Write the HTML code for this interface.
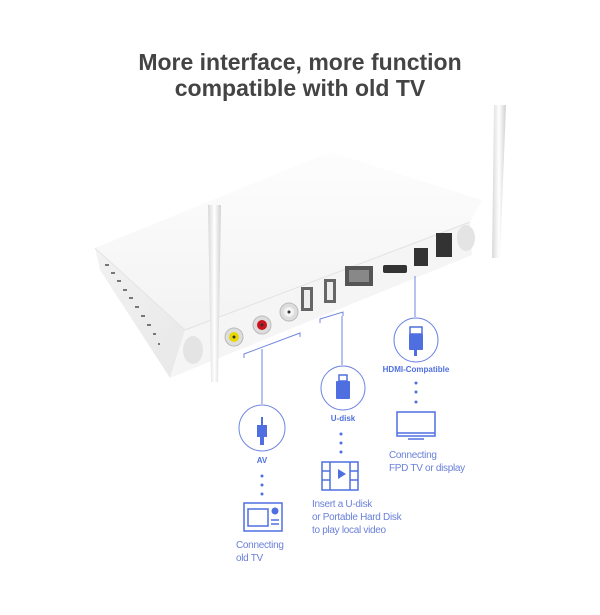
<!DOCTYPE html>
<html><head><meta charset="utf-8"><style>
html,body{margin:0;padding:0;background:#fff;width:600px;height:615px;overflow:hidden}
svg{display:block}
</style></head><body>
<svg width="600" height="615" viewBox="0 0 600 615" xmlns="http://www.w3.org/2000/svg" font-family="Liberation Sans, sans-serif">
<defs>
<linearGradient id="top" x1="0" y1="0" x2="0" y2="1"><stop offset="0" stop-color="#fdfdfd"/><stop offset="1" stop-color="#f3f3f3"/></linearGradient>
<linearGradient id="side" x1="0" y1="0" x2="1" y2="1"><stop offset="0" stop-color="#f2f2f2"/><stop offset="1" stop-color="#e8e8e8"/></linearGradient>
<linearGradient id="ant" x1="0" y1="0" x2="1" y2="0"><stop offset="0" stop-color="#d8d8d8"/><stop offset="0.5" stop-color="#fff"/><stop offset="1" stop-color="#d0d0d0"/></linearGradient>
</defs>
<text x="300" y="70" text-anchor="middle" font-size="23" font-weight="bold" fill="#444">More interface, more function</text>
<text x="300" y="96" text-anchor="middle" font-size="23" font-weight="bold" fill="#444">compatible with old TV</text>

<polygon points="95,248 330,152 482,200 470,222 185,330" fill="url(#top)"/>
<polygon points="95,248 185,330 170,378 100,270" fill="url(#side)"/>
<polygon points="185,330 470,222 472,255 170,378" fill="#f5f5f5"/>
<polyline points="185,330 470,222" stroke="#e2e2e2" fill="none"/>
<polyline points="95,248 185,330" stroke="#e4e4e4" fill="none"/>
<g fill="#777">
<rect x="105" y="264" width="4" height="2"/><rect x="111" y="272" width="4" height="2"/><rect x="117" y="280" width="4" height="2"/>
<rect x="123" y="289" width="4" height="2"/><rect x="129" y="297" width="4" height="2"/><rect x="135" y="306" width="4" height="2"/>
<rect x="141" y="315" width="4" height="2"/><rect x="147" y="324" width="4" height="2"/><rect x="153" y="333" width="3" height="2"/><rect x="158" y="343" width="2" height="2"/>
</g>
<circle cx="234" cy="337" r="9" fill="#ddd" stroke="#bbb"/><circle cx="234" cy="337" r="5" fill="#e8d800"/><circle cx="234" cy="337" r="1.5" fill="#333"/>
<circle cx="262" cy="325" r="9" fill="#ddd" stroke="#bbb"/><circle cx="262" cy="325" r="5" fill="#c9141e"/><circle cx="262" cy="325" r="1.5" fill="#333"/>
<circle cx="289" cy="312" r="9" fill="#ddd" stroke="#bbb"/><circle cx="289" cy="312" r="5" fill="#f4f4f4"/><circle cx="289" cy="312" r="1.5" fill="#333"/>
<rect x="301" y="287" width="12" height="24" fill="#666"/><rect x="304" y="290" width="6" height="18" fill="#eee"/>
<rect x="324" y="279" width="12" height="24" fill="#666"/><rect x="327" y="282" width="6" height="18" fill="#eee"/>
<rect x="345" y="266" width="28" height="20" fill="#555"/><rect x="349" y="270" width="20" height="12" fill="#888"/>
<rect x="383" y="265" width="24" height="8" rx="2" fill="#333"/>
<rect x="414" y="248" width="14" height="18" fill="#333"/>
<rect x="436" y="233" width="16" height="24" fill="#333"/>
<ellipse cx="193" cy="350" rx="10" ry="14" fill="#e4e4e4"/>
<ellipse cx="466" cy="238" rx="9" ry="13" fill="#e4e4e4"/>
<path d="M208,205 L221,205 L218,382 L211,382 Z" fill="url(#ant)"/>
<path d="M494,105 L506,105 L500,258 L492,258 Z" fill="url(#ant)"/>

<g stroke="#6f86e0" stroke-width="1" fill="none">
<polyline points="244,358 244,354 300,333 300,337"/>
<polyline points="320,323 320,319 343,312 343,316"/>
<line x1="262" y1="349" x2="262" y2="404"/>
<line x1="342" y1="316" x2="342" y2="365"/>
<line x1="415" y1="276" x2="415" y2="317"/>
<circle cx="262" cy="428" r="23"/>
<circle cx="343" cy="388" r="22"/>
<circle cx="416" cy="340" r="22"/>
</g>
<g fill="#4f6fe0">
<rect x="410" y="327" width="12" height="7" fill="none" stroke="#4f6fe0" stroke-width="1.5"/>
<rect x="409" y="334" width="14" height="16" rx="1"/>
<rect x="414" y="350" width="3" height="6"/>
<rect x="339" y="375" width="8" height="6" fill="none" stroke="#4f6fe0" stroke-width="1.5"/>
<rect x="336" y="381" width="14" height="18" rx="1"/>
<rect x="261" y="417" width="2" height="9"/>
<rect x="257" y="425" width="10" height="12"/>
<rect x="260" y="437" width="4" height="8"/>
<circle cx="416" cy="383" r="1.5"/><circle cx="416" cy="392" r="1.5"/><circle cx="416" cy="402" r="1.5"/>
<circle cx="341" cy="434" r="1.5"/><circle cx="341" cy="443" r="1.5"/><circle cx="341" cy="452" r="1.5"/>
<circle cx="262" cy="476" r="1.5"/><circle cx="262" cy="485" r="1.5"/><circle cx="262" cy="494" r="1.5"/>
<circle cx="275" cy="511" r="3.5"/>
<polygon points="338,469 338,479 346,474"/>
</g>
<g fill="#4f6fe0" font-weight="bold" font-size="8" text-anchor="middle">
<text x="416" y="372">HDMI-Compatible</text>
<text x="343" y="421">U-disk</text>
<text x="262" y="463">AV</text>
</g>
<g stroke="#4f6fe0" stroke-width="1.5" fill="none">
<rect x="397" y="412" width="38" height="24"/><line x1="397" y1="433" x2="435" y2="433"/><line x1="408" y1="439" x2="424" y2="439"/>
<rect x="322" y="462" width="36" height="28"/><line x1="330" y1="462" x2="330" y2="490"/><line x1="350" y1="462" x2="350" y2="490"/>
<line x1="322" y1="471" x2="330" y2="471"/><line x1="322" y1="480" x2="330" y2="480"/><line x1="350" y1="471" x2="358" y2="471"/><line x1="350" y1="480" x2="358" y2="480"/>
<rect x="244" y="503" width="38" height="28"/><rect x="248" y="509" width="20" height="17"/>
<line x1="271" y1="520" x2="279" y2="520"/><line x1="271" y1="524" x2="279" y2="524"/>
</g>
<g fill="#6a80da" font-size="10" letter-spacing="-0.3">
<text x="389" y="458">Connecting</text><text x="389" y="471">FPD TV or display</text>
<text x="312" y="507">Insert a U-disk</text><text x="312" y="520">or Portable Hard Disk</text><text x="312" y="533">to play local video</text>
<text x="236" y="548">Connecting</text><text x="236" y="561">old TV</text>
</g>
</svg>
</body></html>
